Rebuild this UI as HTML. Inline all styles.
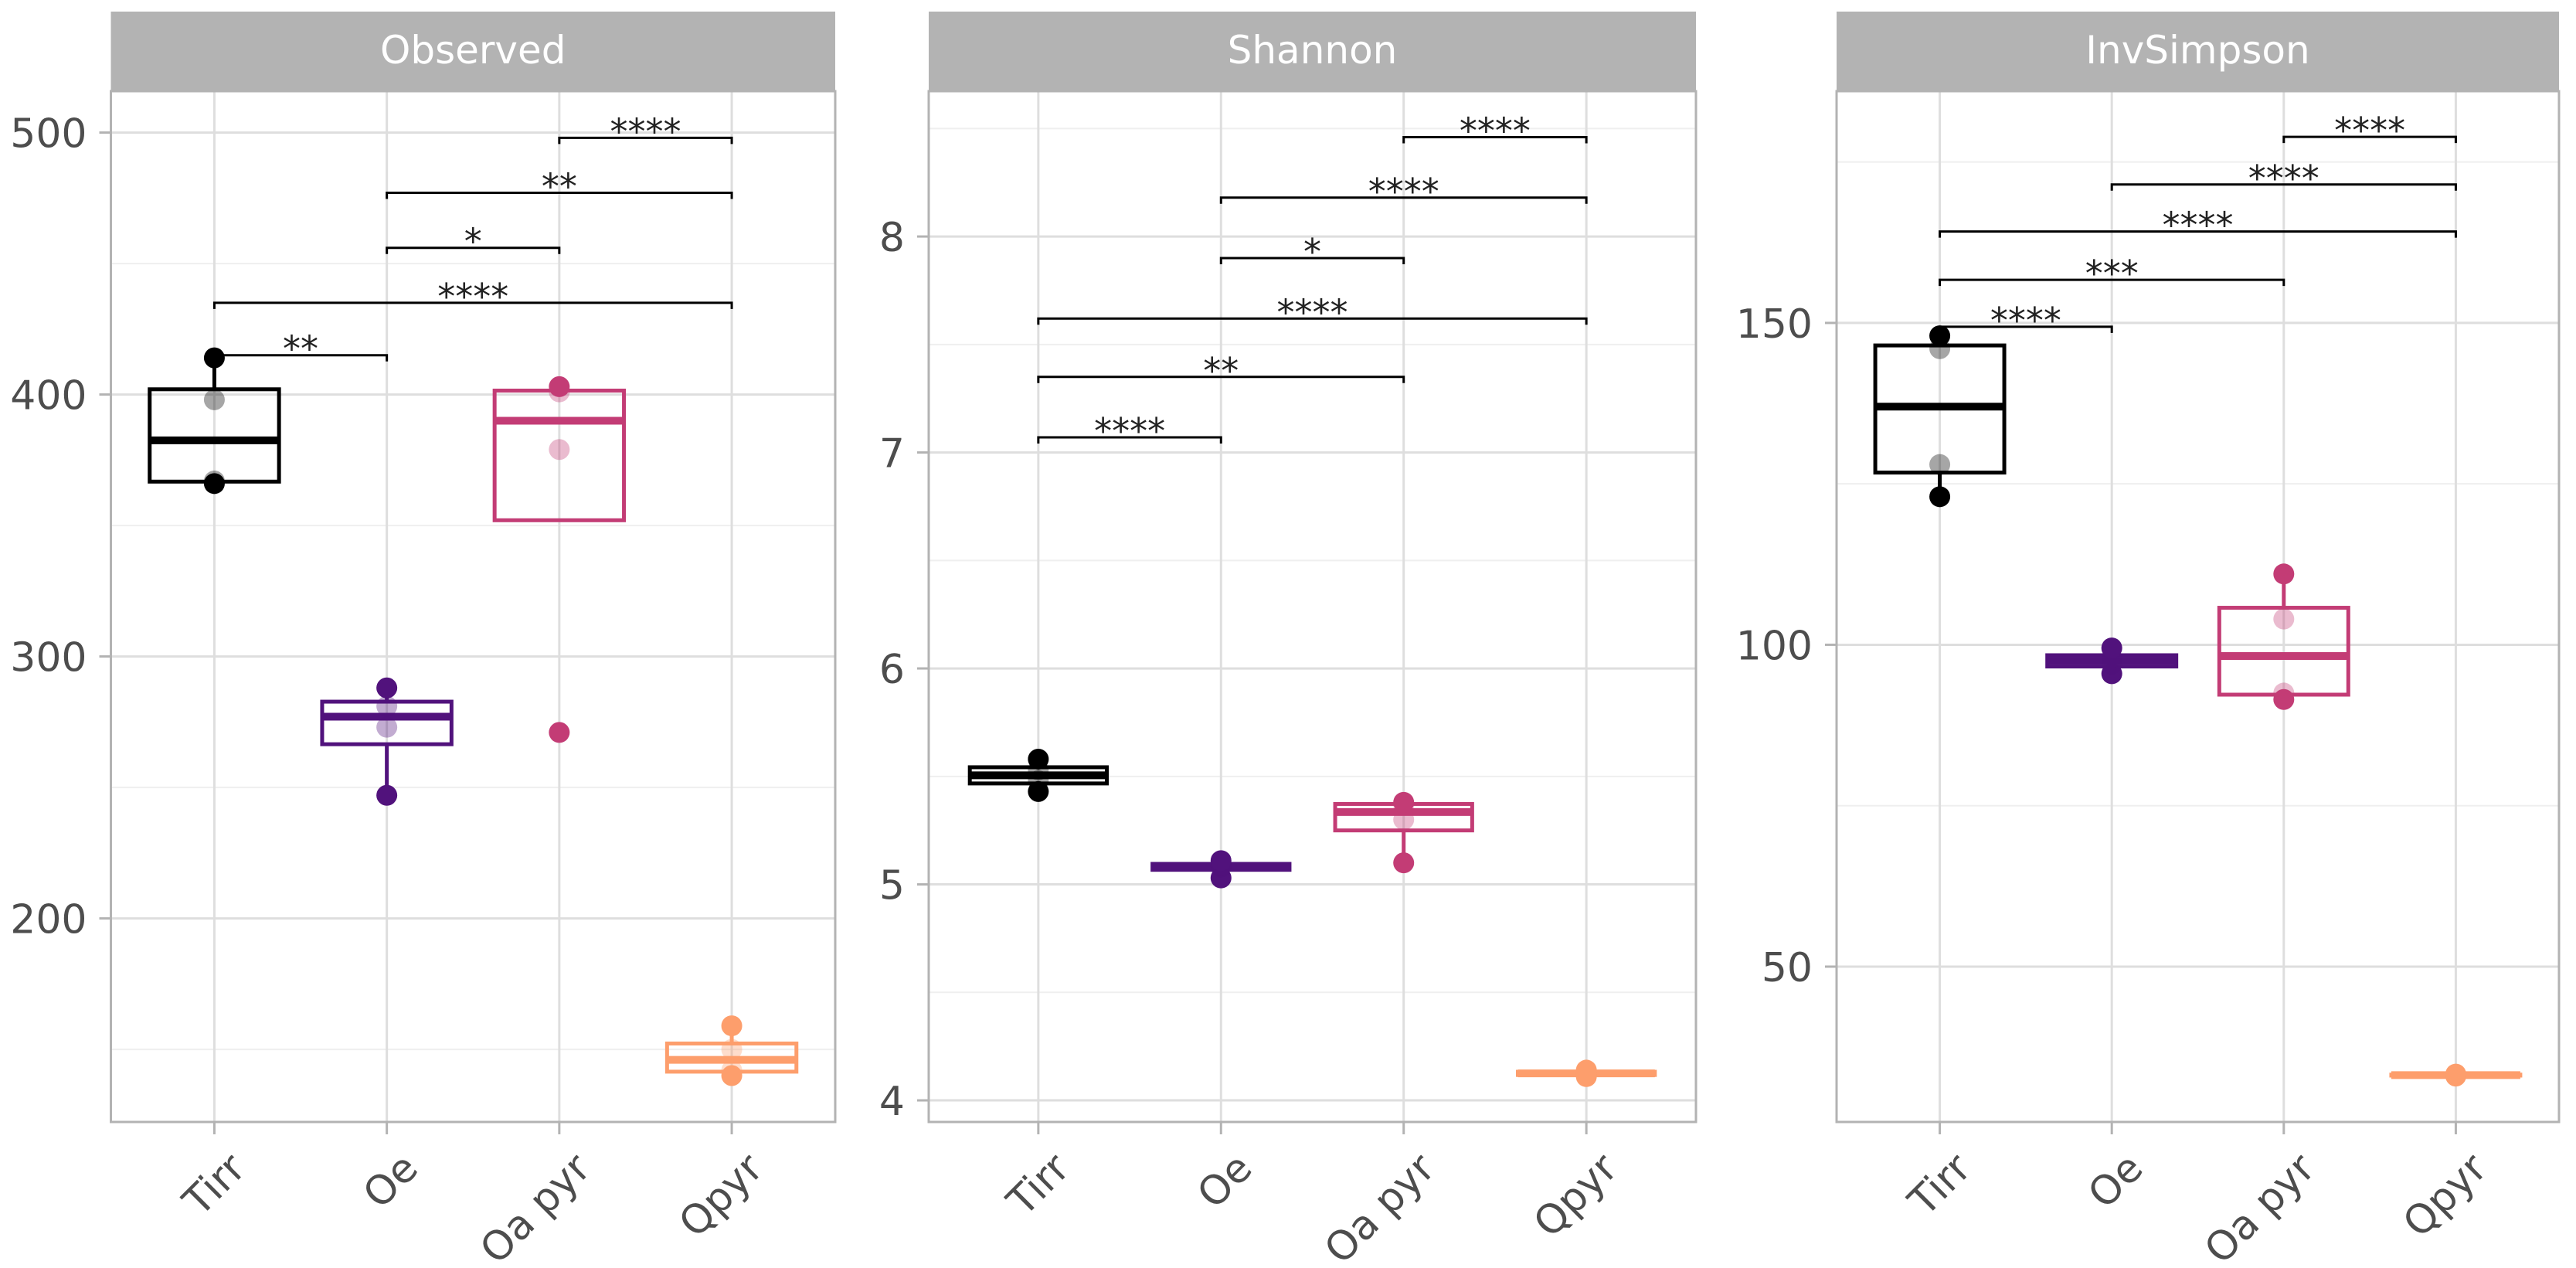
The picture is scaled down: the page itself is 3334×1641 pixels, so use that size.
<!DOCTYPE html>
<html><head><meta charset="utf-8"><style>
html,body{margin:0;padding:0;background:#fff;}
svg{display:block;}
text{font-family:"DejaVu Sans","Liberation Sans",sans-serif;}
</style></head><body>
<svg id="chart" width="3334" height="1641" viewBox="0 0 3334 1641" xmlns="http://www.w3.org/2000/svg"></svg>
<script>
const groups = ["Tirr", "Oe", "Oa pyr", "Qpyr"];
const groupColors = ["#000000", "#51127C", "#C33C75", "#FD9E6C"];
const facetTitles = ["Observed", "Shannon", "InvSimpson"];
const observedValues = [[366, 367, 398, 414], [247, 273, 281, 288], [271, 379, 401, 403], [140, 142, 150, 159]];
const shannonValues = [[5.43, 5.48, 5.53, 5.58], [5.03, 5.08, 5.09, 5.11], [5.10, 5.30, 5.37, 5.38], [4.11, 4.12, 4.13, 4.14]];
const invSimpsonValues = [[123, 128, 146, 148], [95.5, 97, 98, 99.5], [91.5, 92.5, 104, 111], [33, 33.1, 33.2, 33.3]];
const observedTicks = [200, 300, 400, 500];
const observedMinor = [150, 250, 350, 450];
const shannonTicks = [4, 5, 6, 7, 8];
const shannonMinor = [4.5, 5.5, 6.5, 7.5, 8.5];
const invSimpsonTicks = [50, 100, 150];
const invSimpsonMinor = [75, 125, 175];
const observedBrackets = [[0, 1, 415, "**"], [0, 3, 435, "****"], [1, 2, 456, "*"], [1, 3, 477, "**"], [2, 3, 498, "****"]];
const shannonBrackets = [[0, 1, 7.07, "****"], [0, 2, 7.35, "**"], [0, 3, 7.62, "****"], [1, 2, 7.90, "*"], [1, 3, 8.18, "****"], [2, 3, 8.46, "****"]];
const invSimpsonBrackets = [[0, 1, 149.4, "****"], [0, 2, 156.7, "***"], [0, 3, 164.2, "****"], [1, 3, 171.5, "****"], [2, 3, 178.9, "****"]];

const NS = "http://www.w3.org/2000/svg";
const svg = document.getElementById("chart");
function mk(tag, attrs, parent) {
  const e = document.createElementNS(NS, tag);
  for (const k in attrs) e.setAttribute(k, attrs[k]);
  (parent || svg).appendChild(e);
  return e;
}
function quant(s, p) {
  const h = (s.length - 1) * p, lo = Math.floor(h), hi = Math.ceil(h);
  return s[lo] + (s[hi] - s[lo]) * (h - lo);
}
const TOP = 118, BOT = 1452;
const panels = [
  {left: 143.5, right: 1081, lo: 122.3, hi: 515.8, vals: observedValues, ticks: observedTicks, minor: observedMinor, br: observedBrackets},
  {left: 1202, right: 2195, lo: 3.900, hi: 8.673, vals: shannonValues, ticks: shannonTicks, minor: shannonMinor, br: shannonBrackets},
  {left: 2377, right: 3312, lo: 25.87, hi: 186.0, vals: invSimpsonValues, ticks: invSimpsonTicks, minor: invSimpsonMinor, br: invSimpsonBrackets}
];
panels.forEach((p, pi) => {
  const g = mk("g", {});
  
  
  const sp = (p.right - p.left) / 4.2;
  const xs = i => p.left + sp * (0.6 + i);
  const ys = v => BOT - (v - p.lo) / (p.hi - p.lo) * (BOT - TOP);
  // strip
  const strip = mk("rect", {x: p.left, y: 15, width: p.right - p.left, height: TOP - 15, fill: "#b3b3b3"}, g);
  
  
  const st = mk("text", {x: (p.left + p.right) / 2, y: 82, "text-anchor": "middle", "font-size": 50, fill: "#ffffff"}, g);
  st.textContent = facetTitles[pi];
  
  
  // grid
  p.minor.forEach(v => {
    const y = ys(v);
    if (y < TOP || y > BOT) return;
    mk("line", {x1: p.left, x2: p.right, y1: y, y2: y, stroke: "#efefef", "stroke-width": 2}, g);
  });
  p.ticks.forEach(v => {
    const y = ys(v);
    mk("line", {x1: p.left, x2: p.right, y1: y, y2: y, stroke: "#dedede", "stroke-width": 3}, g);
    mk("line", {x1: p.left - 15, x2: p.left, y1: y, y2: y, stroke: "#b3b3b3", "stroke-width": 3}, g);
    const t = mk("text", {x: p.left - 31, y: y + 19, "text-anchor": "end", "font-size": 52, fill: "#4d4d4d"}, g);
    t.textContent = String(v);
    
    
  });
  groups.forEach((name, i) => {
    const x = xs(i);
    mk("line", {x1: x, x2: x, y1: TOP, y2: BOT, stroke: "#dedede", "stroke-width": 3}, g);
    mk("line", {x1: x, x2: x, y1: BOT, y2: BOT + 16, stroke: "#b3b3b3", "stroke-width": 3}, g);
    const t = mk("text", {x: x + 43, y: 1515, "text-anchor": "end", "font-size": 52, fill: "#4d4d4d", transform: `rotate(-45 ${x + 43} 1515)`}, g);
    t.textContent = name;
    
    
  });
  // boxes
  p.vals.forEach((vals, i) => {
    const s = vals.slice().sort((a, b) => a - b);
    const q1 = quant(s, 0.25), med = quant(s, 0.5), q3 = quant(s, 0.75), iqr = q3 - q1;
    const inF = s.filter(v => v >= q1 - 1.5 * iqr && v <= q3 + 1.5 * iqr);
    const wLo = Math.min(...inF), wHi = Math.max(...inF);
    const x = xs(i), hw = sp * 0.75 / 2, c = groupColors[i];
    const bg = mk("g", {}, g);
    
    
    if (wHi > q3) mk("line", {x1: x, x2: x, y1: ys(q3), y2: ys(wHi), stroke: c, "stroke-width": 5}, bg);
    if (wLo < q1) mk("line", {x1: x, x2: x, y1: ys(q1), y2: ys(wLo), stroke: c, "stroke-width": 5}, bg);
    mk("rect", {x: x - hw, y: ys(q3), width: 2 * hw, height: Math.max(ys(q1) - ys(q3), 0.1), fill: "none", stroke: c, "stroke-width": 5}, bg);
    mk("line", {x1: x - hw, x2: x + hw, y1: ys(med), y2: ys(med), stroke: c, "stroke-width": 10}, bg);
    const mn = Math.min(...vals), mx = Math.max(...vals);
    vals.forEach(v => {
      const ext = (v === mn || v === mx);
      const pt = mk("circle", {cx: x, cy: ys(v), r: 13.5, fill: c, "fill-opacity": ext ? 1 : 0.35}, bg);
      
      
    });
  });
  // brackets
  p.br.forEach(b => {
    const x1 = xs(b[0]), x2 = xs(b[1]), y = ys(b[2]);
    const bk = mk("path", {d: `M${x1},${y + 8}V${y}H${x2}V${y + 8}`, fill: "none", stroke: "#000", "stroke-width": 3}, g);
    
    
    const t = mk("text", {x: (x1 + x2) / 2, y: y + 8, "text-anchor": "middle", "font-size": 46, fill: "#222"}, g);
    t.textContent = b[3];
    
    
  });
  // border
  mk("rect", {x: p.left, y: TOP, width: p.right - p.left, height: BOT - TOP, fill: "none", stroke: "#b3b3b3", "stroke-width": 3}, g);
});
function name2(s) { return s.toLowerCase().replace(/\s+/g, '-'); }
</script>
</body></html>
